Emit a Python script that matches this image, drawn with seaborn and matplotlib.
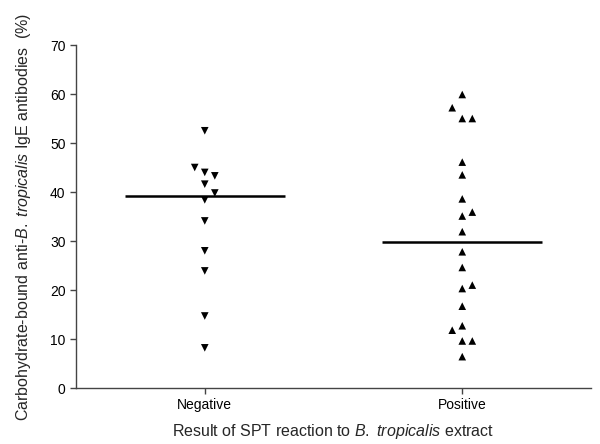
import numpy as np
import pandas as pd
import matplotlib
matplotlib.use("Agg")
import matplotlib.pyplot as plt
import seaborn as sns

categories = ["Negative", "Positive"]
negative_values = [52.5, 45.0, 44.0, 43.3, 41.6, 39.8, 38.4, 34.1, 28.0, 23.9, 14.7, 8.2]
positive_values = [59.9, 57.2, 55.0, 55.0, 46.1, 43.5, 38.6, 35.9, 35.1, 31.9, 27.8,
                   24.6, 21.0, 20.3, 16.7, 12.7, 11.8, 9.6, 9.6, 6.4]
y_ticks = [0, 10, 20, 30, 40, 50, 60, 70]

sns.set_style("ticks")
plt.rcParams["font.family"] = ["Liberation Sans", "DejaVu Sans"]
plt.rcParams["mathtext.fontset"] = "custom"
plt.rcParams["mathtext.rm"] = "Liberation Sans"
plt.rcParams["mathtext.it"] = "Liberation Sans:italic"


def spread_columns(values, min_gap=2.3, order=(0, 1, -1)):
    """Greedy column assignment so that close points sit side by side."""
    idx = np.argsort(values, kind="stable")
    cols = np.zeros(len(values), dtype=int)
    placed = []
    for i in idx:
        v = values[i]
        for c in order:
            if all(not (pc == c and abs(pv - v) < min_gap) for pv, pc in placed):
                cols[i] = c
                placed.append((v, c))
                break
    return cols


col_step = 0.039
rows = []
for i, (cat, vals) in enumerate(zip(categories, [negative_values, positive_values])):
    cols = spread_columns(np.array(vals))
    for v, c in zip(vals, cols):
        rows.append({"group": cat, "value": v, "xpos": i + c * col_step})
df = pd.DataFrame(rows)

fig = plt.figure(figsize=(6.0, 4.44), dpi=100)
ax = fig.add_axes([0.1267, 0.1261, 0.8583, 0.7725])

markers = {"Negative": "v", "Positive": "^"}
sns.scatterplot(data=df, x="xpos", y="value", style="group", markers=markers,
                color="black", s=30, linewidth=0, legend=False, ax=ax)

for i, cat in enumerate(categories):
    med = np.median(df.loc[df["group"] == cat, "value"])
    ax.hlines(med, i - 0.31, i + 0.31, color="black", linewidth=1.8, zorder=5)

ax.set_xlim(-0.5, 1.5)
ax.set_ylim(0, 70)
ax.set_yticks(y_ticks)
ax.set_xticks(range(len(categories)))
ax.set_xticklabels(categories)
for s in ["top", "right"]:
    ax.spines[s].set_visible(False)
for s in ["left", "bottom"]:
    ax.spines[s].set_color("#444444")
    ax.spines[s].set_linewidth(1.0)
ax.tick_params(axis="both", colors="#444444", labelcolor="black", labelsize=10,
               length=4, width=1.0, direction="out")
ax.set_xlabel(r"Result of SPT reaction to $\mathit{B.\ tropicalis}$ extract", fontsize=11.5, labelpad=7)
ax.set_ylabel(r"Carbohydrate-bound anti-$\mathit{B.\ tropicalis}$ IgE antibodies  (%)", fontsize=11.5, labelpad=12)

fig.savefig("out.png", dpi=100)
